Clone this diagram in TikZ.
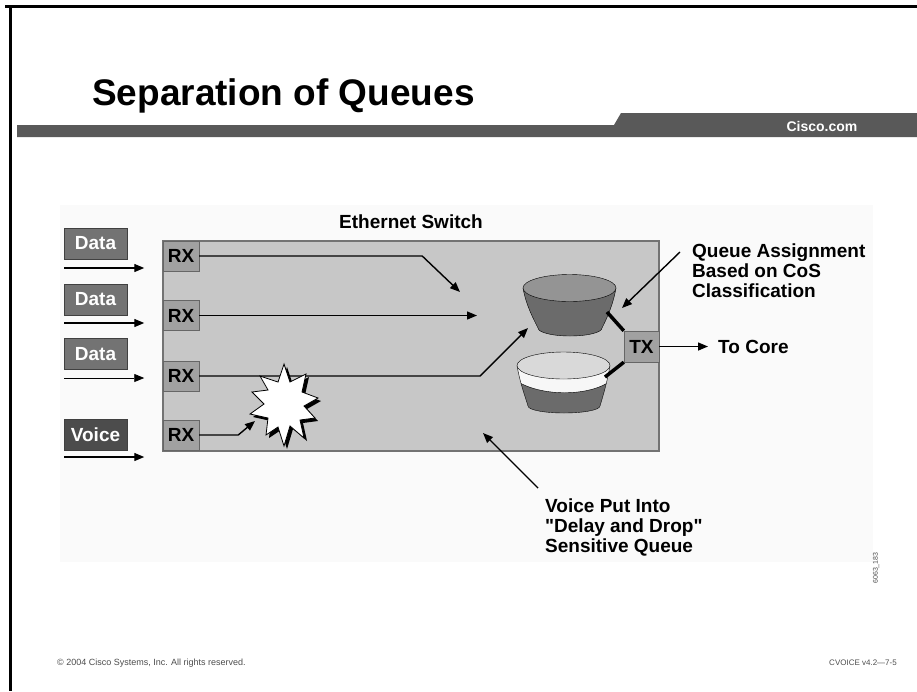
\documentclass[tikz,border=0pt]{standalone}
\usepackage{fontspec}
\newfontfamily\slidefont{Liberation Sans}
\usetikzlibrary{arrows.meta}

% outline of the collision burst, around (0,0)
\newcommand\burstoutline{(0,-40) -- (6,-22) -- (22,-30) -- (18,-12) -- (34,-6) -- (20,2) -- (31,14)
  -- (16,16) -- (20,34) -- (6,22) -- (0,42) -- (-6,23) -- (-18,31) -- (-16,14) -- (-34,10)
  -- (-20,0) -- (-32,-12) -- (-16,-14) -- (-24,-28) -- (-6,-22) -- cycle}

\begin{document}
\begin{tikzpicture}[x=1pt,y=-1pt]
\tikzstyle{every node} = [rectangle, inner sep=0pt, font=\slidefont\bfseries\fontsize{19}{20}\selectfont]
\tikzstyle{inbox} = [draw=black!75, fill=black!55, text=white, minimum width=63pt, minimum height=31pt]
\tikzstyle{port} = [draw=black!60, fill=black!37, minimum width=36pt, minimum height=30pt]
\tikzstyle{flow} = [line width=1.4pt, -{Triangle[length=10pt,width=8pt]}]
\tikzstyle{link} = [line width=3.5pt]
\tikzstyle{small} = [text=black!70, font=\slidefont\fontsize{9}{10}\selectfont]

\useasboundingbox (0,0) rectangle (917,691);

% frame and title bar
\draw[line width=3pt] (5,6) -- (917,6);
\draw[line width=3pt] (10,5) -- (10,691);
\fill[black!65] (17,125) -- (614,125) -- (621,113) -- (917,113) -- (917,137) -- (17,137) -- cycle;
\node[anchor=base west, font=\slidefont\bfseries\fontsize{37}{40}\selectfont] (title) at (92,105) {Separation of Queues};
\node[text=white, font=\slidefont\bfseries\fontsize{14}{16}\selectfont] (web) at (822,126) {Cisco.com};
\fill[black!2] (60,205) rectangle (873,562);

% the switch
\node[draw=black!55, fill=black!22, line width=1.5pt, minimum width=496pt, minimum height=210pt] (switch) at (411,346) {};
\node (swname) at (411,222) {Ethernet Switch};

\node[port] (rx1) at (181,256) {RX};
\node[port] (rx2) at (181,315.5) {RX};
\node[port] (rx3) at (181,376) {RX};
\node[port] (rx4) at (181,435) {RX};
\node[port, minimum width=35pt, minimum height=31pt] (tx) at (641.5,346.5) {TX};

% incoming traffic
\node[inbox] (data1) at (95.5,243.5) {Data};
\node[inbox] (data2) at (95.5,299.5) {Data};
\node[inbox] (data3) at (95.5,354) {Data};
\node[inbox, fill=black!70] (voice) at (95.5,434.5) {Voice};

\coordinate (src1) at (64,268);
\coordinate (src2) at (64,323);
\coordinate (src3) at (64,378);
\coordinate (src4) at (64,457);
\draw[flow, shorten >=18pt] (src1) -- (src1 -| switch.west);
\draw[flow, shorten >=18pt] (src2) -- (src2 -| switch.west);
\draw[flow, line width=0.8pt, shorten >=18pt] (src3) -- (src3 -| switch.west);
\draw[flow, shorten >=18pt] (src4) -- (src4 -| switch.west);

% queues
\draw[fill=black!58] (523,288) .. controls (526,305) and (533,318) .. (538,328)
  arc[start angle=180, end angle=360, x radius=32pt, y radius=8pt]
  .. controls (607,318) and (613,305) .. (616,288) -- cycle;
\draw[fill=black!42] (569.5,288) ellipse[x radius=46.5pt, y radius=13.5pt];

\begin{scope}
\clip (517,365.5) .. controls (520,383) and (525,396) .. (528,406)
  arc[start angle=180, end angle=360, x radius=36pt, y radius=7pt]
  .. controls (603,396) and (607,383) .. (610,365.5) -- cycle;
\fill[black!3] (510,360) rectangle (615,420);
\fill[black!58] (515,380) .. controls (540,397) and (590,397) .. (612,380) -- (612,420) -- (515,420) -- cycle;
\draw (515,380) .. controls (540,397) and (590,397) .. (612,380);
\end{scope}
\draw (517,365.5) .. controls (520,383) and (525,396) .. (528,406)
  arc[start angle=180, end angle=360, x radius=36pt, y radius=7pt]
  .. controls (603,396) and (607,383) .. (610,365.5);
\draw[fill=black!15] (563.5,365.5) ellipse[x radius=46.5pt, y radius=13.5pt];

\coordinate (qhi) at (607,312);
\coordinate (qlo) at (605,377);
\draw[link] (qhi) -- (tx.north west);
\draw[link] (qlo) -- (tx.south west);

% paths through the switch
\coordinate (q1) at (460,292);
\coordinate (q2) at (477,315.5);
\coordinate (q3) at (528,328);
\coordinate (hit) at (255,421);
\draw[flow] (rx1.east) -- ++(223,0) -- (q1);
\draw[flow] (rx2.east) -- (q2);
\draw[flow] (rx3.east) -- ++(281,0) -- (q3);
\draw[flow] (rx4.east) -- ++(39,0) -- (hit);

% collision burst with its shadow
\fill[shift={(287,407)}] \burstoutline;
\draw[fill=white, line width=0.8pt, shift={(284,404)}] \burstoutline;

% outgoing
\node[anchor=west] (core) at (718,346.5) {To Core};
\draw[flow] (tx.east) -- ([xshift=-10pt]core.west);

% notes
\node[anchor=west, align=left] (assign) at (692,271) {Queue Assignment\\Based on CoS\\Classification};
\coordinate (assigntail) at (680,252);
\coordinate (assigntip) at (622,308);
\draw[flow] (assigntail) -- (assigntip);

\node[anchor=west, align=left] (vnote) at (545,527) {Voice Put Into\\"Delay and Drop"\\Sensitive Queue};
\coordinate (vnotetail) at (538,488);
\coordinate (vnotetip) at (483,433);
\draw[flow] (vnotetail) -- (vnotetip);

% footer
\node[small, anchor=west] (copy) at (57,663) {© 2004 Cisco Systems, Inc. All rights reserved.};
\node[small, anchor=east, font=\slidefont\fontsize{8}{9}\selectfont] (course) at (897,663) {CVOICE v4.2—7-5};
\node[small, rotate=90, font=\slidefont\fontsize{7}{8}\selectfont] (figid) at (876,568) {6063\_183};
\end{tikzpicture}
\end{document}
